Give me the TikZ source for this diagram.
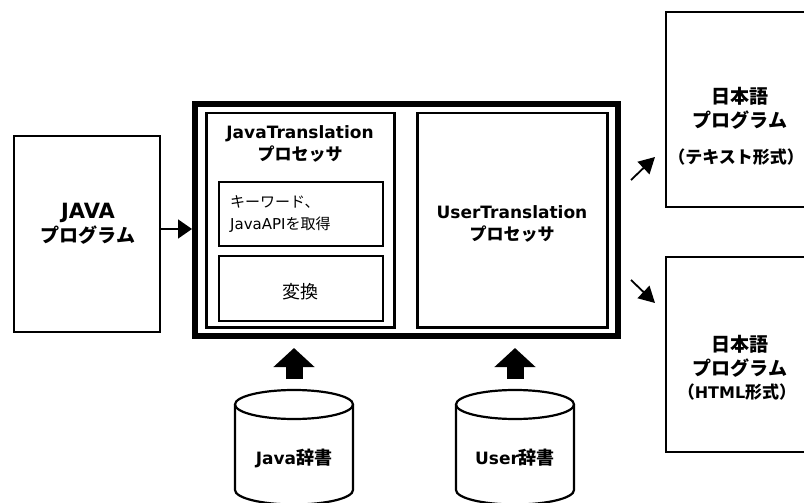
\documentclass[tikz,border=0pt]{standalone}
\usepackage{fontspec}
\setmainfont{Noto Sans CJK JP}
\newfontfamily\lat{DejaVu Sans}
\usetikzlibrary{arrows.meta}
\tikzset{
  box/.style={draw, line width=2.2pt, inner sep=0pt},
  thickbox/.style={draw, line width=6pt, inner sep=0pt},
  lbl/.style={font=\bfseries\fontsize{19}{24}\selectfont, align=center, inner sep=0pt},
  slbl/.style={font=\bfseries\fontsize{17}{22}\selectfont, align=center, inner sep=0pt},
  rlbl/.style={font=\fontsize{15}{22}\selectfont, align=left, inner sep=0pt},
  arr/.style={line width=1.6pt, -{Triangle[length=14pt,width=19pt]}},
  darr/.style={line width=1.8pt, -{Triangle[length=16pt,width=17pt]}},
  blockarrow/.style={line width=17pt, -{Triangle[length=19pt,width=40pt]}},
  cyl/.style={line width=2.2pt},
}
\begin{document}
\begin{tikzpicture}[x=1pt,y=-1pt]
\useasboundingbox (0,0) rectangle (804,503);
\clip (0,0) rectangle (804,503);
\fill[white] (0,0) rectangle (804,503);

% JAVA program box
\node[box, minimum width=146pt, minimum height=196pt] (java) at (87,234) {};
\node[lbl] (javat) at (88,224) {{\lat\bfseries\fontsize{21}{24}\selectfont JAVA}\\プログラム};

% outer processor box
\node[thickbox, minimum width=423pt, minimum height=232pt] (outer) at (406.5,220) {};
\node[box, minimum width=188pt, minimum height=214.5pt] (jt) at (300.5,220.25) {};
\node[box, minimum width=190pt, minimum height=214.5pt] (ut) at (512.5,220.25) {};
\node[slbl] (jtt) at (300,144) {{\lat\bfseries JavaTranslation}\\プロセッサ};
\node[slbl] (utt) at (512,224) {{\lat\bfseries UserTranslation}\\プロセッサ};
\node[box, minimum width=164pt, minimum height=64pt] (sub1) at (301,214) {};
\node[box, minimum width=164pt, minimum height=65pt] (sub2) at (301,288.5) {};
\node[rlbl, anchor=west] (sub1t) at (230,214) {キーワード、\\{\lat JavaAPI}を取得};
\node[slbl, font=\fontsize{18}{22}\selectfont] (sub2t) at (300,292) {変換};

% output boxes
\node[box, minimum width=150pt, minimum height=195pt] (out1) at (741,109.5) {};
\node[box, minimum width=150pt, minimum height=195pt] (out2) at (741,354.5) {};
\node[lbl] (out1a) at (740,108) {日本語\\プログラム};
\node[lbl, font=\bfseries\fontsize{17}{22}\selectfont] (out1b) at (736,157) {（テキスト形式）};
\node[lbl] (out2a) at (740,356) {日本語\\プログラム};
\node[lbl, font=\bfseries\fontsize{17}{22}\selectfont] (out2b) at (737,392) {（{\lat\bfseries\fontsize{16}{22}\selectfont HTML}形式）};

% dictionaries (cylinders)
\draw[cyl] (235,404.5) -- (235,490) arc[start angle=180,end angle=360,x radius=59pt,y radius=14.5pt] -- (353,404.5);
\draw[cyl] (294,404.5) ellipse[x radius=59pt,y radius=14.5pt];
\draw[cyl] (456,404.5) -- (456,490) arc[start angle=180,end angle=360,x radius=59pt,y radius=14.5pt] -- (574,404.5);
\draw[cyl] (515,404.5) ellipse[x radius=59pt,y radius=14.5pt];
\coordinate (jtop) at (294,390);
\coordinate (utop) at (515,390);
\node[slbl, font=\bfseries\fontsize{18}{22}\selectfont] (jdict) at (294,458) {{\lat\bfseries\fontsize{17}{22}\selectfont Java}辞書};
\node[slbl, font=\bfseries\fontsize{18}{22}\selectfont] (udict) at (515,458) {{\lat\bfseries\fontsize{17}{22}\selectfont User}辞書};

% connectors
\draw[arr] ([yshift=5pt]java.east) -- ([yshift=5pt]java.east -| outer.west);
\draw[blockarrow, shorten <=11pt, shorten >=9pt] (jtop) -- (jtop |- outer.south);
\draw[blockarrow, shorten <=11pt, shorten >=9pt] (utop) -- (utop |- outer.south);
\coordinate (d1s) at (631,180);
\coordinate (d1e) at (655,157);
\coordinate (d2s) at (631,280);
\coordinate (d2e) at (655,303);
\draw[darr] (d1s) -- (d1e);
\draw[darr] (d2s) -- (d2e);
\end{tikzpicture}
\end{document}
